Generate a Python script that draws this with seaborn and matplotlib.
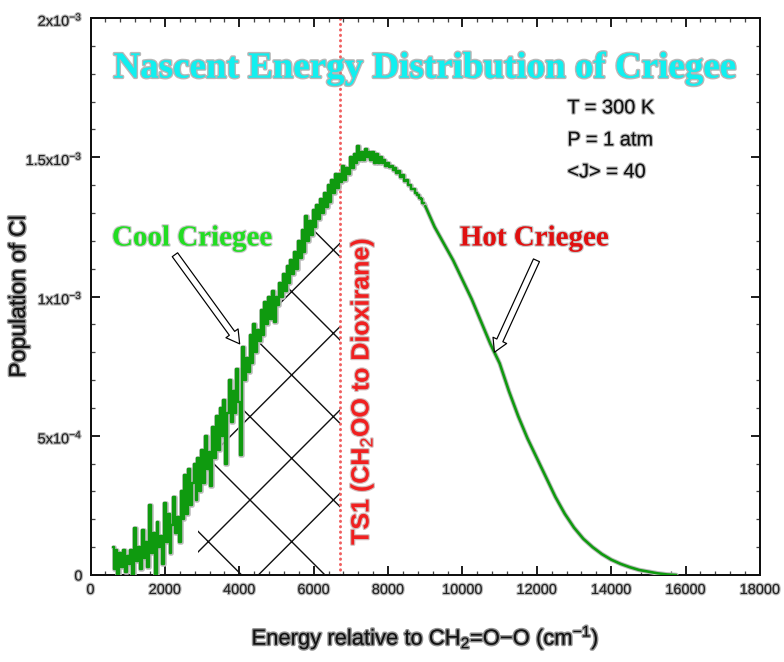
import numpy as np
import pandas as pd
import seaborn as sns
import matplotlib
matplotlib.use("Agg")
import matplotlib.pyplot as plt
import matplotlib.patheffects as pe
from matplotlib.ticker import FixedLocator, MultipleLocator

# ---------------- data (population in units of 1e-3) ----------------
noisy_start = 600
noisy_step = 50
pop_noisy = [
    0.10, 0.02, 0.09, 0.00, 0.08, 0.03, 0.09, 0.01, 0.07,
    0.04, 0.09, 0.00, 0.17, 0.05, 0.10, 0.02, 0.16, 0.06, 0.12,
    0.03, 0.25, 0.08, 0.15, 0.00, 0.19, 0.10, 0.14, 0.04, 0.26,
    0.12, 0.22, 0.08, 0.18, 0.28, 0.15, 0.21, 0.12, 0.30, 0.20,
    0.36, 0.22, 0.38, 0.25, 0.33, 0.40, 0.27, 0.42, 0.30, 0.45,
    0.33, 0.50, 0.38, 0.44, 0.32, 0.53, 0.42, 0.57, 0.45, 0.60,
    0.50, 0.63, 0.40, 0.58, 0.70, 0.55, 0.66, 0.58, 0.74, 0.62,
    0.43, 0.82, 0.70, 0.78, 0.73, 0.86, 0.76, 0.90, 0.80, 0.88,
    0.84, 0.95, 0.86, 0.98, 0.90, 1.00, 0.92, 1.02, 0.91, 1.00,
    0.97, 1.05, 1.00, 1.08, 1.02, 1.11, 1.05, 1.13, 1.08, 1.16,
    1.10, 1.20, 1.14, 1.24, 1.16, 1.29, 1.20, 1.27, 1.22, 1.31,
    1.25, 1.33, 1.28, 1.35, 1.30, 1.37, 1.32, 1.40, 1.34, 1.42,
    1.37, 1.44, 1.39, 1.44, 1.41, 1.47, 1.42, 1.46, 1.44, 1.50,
    1.46, 1.51, 1.48, 1.54, 1.49, 1.52, 1.49, 1.53, 1.50, 1.52,
    1.49, 1.52, 1.48, 1.51, 1.48, 1.50, 1.48, 1.49, 1.47, 1.48,
    1.465, 1.47, 1.455, 1.46, 1.445, 1.45, 1.43, 1.435, 1.415, 1.42,
    1.40, 1.40, 1.385, 1.385, 1.37, 1.365, 1.355, 1.35, 1.335, 1.33,
]
energy_tail = [9000, 9250, 9500, 9750, 10000, 10250, 10500, 10750, 11000, 11250,
               11500, 11750, 12000, 12250, 12500, 12750, 13000, 13250, 13500,
               13750, 14000, 14250, 14500, 14750, 15000, 15250, 15500, 15750]
pop_tail = [1.325, 1.25, 1.19, 1.13, 1.06, 0.99, 0.91, 0.83, 0.76, 0.66,
            0.57, 0.49, 0.42, 0.35, 0.28, 0.22, 0.17, 0.13, 0.10,
            0.075, 0.055, 0.04, 0.028, 0.018, 0.012, 0.006, 0.002, 0.0]

ts1_energy = 6700
hatch_range = (2900, 6700)

x_ticks = [0, 2000, 4000, 6000, 8000, 10000, 12000, 14000, 16000, 18000]
x_ticklabels = [str(v) for v in x_ticks]
y_ticks = [0, 5e-4, 1e-3, 1.5e-3, 2e-3]
y_ticklabels = ["0", "5x10$^{-4}$", "1x10$^{-3}$", "1.5x10$^{-3}$", "2x10$^{-3}$"]

title = "Nascent Energy Distribution of Criegee"
conditions = ["T = 300 K", "P = 1 atm", "<J> = 40"]

energy_noisy = noisy_start + noisy_step * np.arange(len(pop_noisy))
df_noisy = pd.DataFrame({"energy": energy_noisy, "population": np.array(pop_noisy) * 1e-3})
df_tail = pd.DataFrame({"energy": energy_tail, "population": np.array(pop_tail) * 1e-3})

# ---------------- styling ----------------
DPI = 250
PX = 72.0 / DPI  # points per pixel

sns.set_style("ticks")
plt.rcParams["font.family"] = ["Liberation Sans", "DejaVu Sans"]
plt.rcParams["mathtext.fontset"] = "custom"
plt.rcParams["mathtext.rm"] = "Liberation Sans"
plt.rcParams["mathtext.it"] = "Liberation Sans:italic"
plt.rcParams["mathtext.bf"] = "Liberation Sans:bold"
plt.rcParams["hatch.linewidth"] = 1.4 * PX
plt.rcParams["axes.linewidth"] = 2.0 * PX

fig = plt.figure(figsize=(784 / DPI, 662 / DPI), dpi=DPI)
ax = fig.add_axes([90.5 / 784, 87 / 662, (760 - 90.5) / 784, (575 - 18) / 662])

def halo(w, c="#b0b0b0", a=0.8):
    return [pe.withStroke(linewidth=w * PX, foreground=c, alpha=a)]

# hatched region under the curve up to TS1
mask = (df_noisy["energy"] >= hatch_range[0]) & (df_noisy["energy"] <= hatch_range[1])
ax.fill_between(df_noisy["energy"][mask], 0, df_noisy["population"][mask], step="mid",
                hatch="x", facecolor="none", edgecolor="#111111", linewidth=0, zorder=1)

# curve
curve_pe = [pe.Stroke(linewidth=4.6 * PX, foreground="#bdbdbd"), pe.Normal()]
sns.lineplot(data=df_noisy, x="energy", y="population", ax=ax, color="#0f9a0f",
             drawstyle="steps-mid", linewidth=2.4 * PX, errorbar=None, zorder=3,
             path_effects=curve_pe)
sns.lineplot(data=df_tail, x="energy", y="population", ax=ax, color="#0f9a0f",
             linewidth=2.6 * PX, errorbar=None, zorder=3, path_effects=curve_pe)

# TS1 dotted line
ax.axvline(ts1_energy, color="#f06060", linewidth=3.0 * PX, linestyle=(0, (0.1, 1.7)),
           dash_capstyle="round", zorder=2)

ax.set_xlim(0, 18000)
ax.set_ylim(0, 2e-3)
ax.xaxis.set_major_locator(FixedLocator(x_ticks))
ax.set_xticklabels(x_ticklabels)
ax.xaxis.set_minor_locator(MultipleLocator(400))
ax.yaxis.set_major_locator(FixedLocator(y_ticks))
ax.set_yticklabels(y_ticklabels)
ax.yaxis.set_minor_locator(MultipleLocator(1e-4))

ax.tick_params(which="major", direction="in", length=9 * PX, width=2 * PX,
               top=True, right=True, labelsize=14.5 * PX, pad=8 * PX, colors="#222222")
ax.tick_params(which="minor", direction="in", length=4.5 * PX, width=1.3 * PX,
               top=True, right=True, colors="#444444")
for lbl in ax.get_xticklabels() + ax.get_yticklabels():
    lbl.set_path_effects(halo(2.5, "#999999", 0.7))
for s in ax.spines.values():
    s.set_color("#111111")
    s.set_linewidth(2 * PX)

ax.set_xlabel("Energy relative to CH$_2$=O$-$O (cm$^{-1}$)", fontsize=22 * PX,
              color="#111111", path_effects=halo(3, "#777777", 0.8))
ax.xaxis.set_label_coords(0.5, -(624 - 575) / 557)
ax.set_ylabel("Population of Cl", fontsize=23 * PX, color="#111111",
              path_effects=halo(3, "#777777", 0.8))
ax.yaxis.set_label_coords(-(90.5 - 30) / 669.5, 0.5)

# title
ax.text(8980, 1.82e-3, title, ha="center", va="center", fontsize=37 * PX,
        fontweight="bold", family=["Liberation Serif", "DejaVu Serif"], color="#11f0f0",
        path_effects=halo(3, "#9a9a9a", 0.7), zorder=5)

# conditions
for i, line in enumerate(conditions):
    ax.text(12820, 1.677e-3 - i * 0.115e-3, line, ha="left", va="center",
            fontsize=20 * PX, color="#111111", path_effects=halo(2.5, "#999999", 0.7),
            zorder=5)

# labels
ax.text(2730, 1.21e-3, "Cool Criegee", ha="center", va="center", fontsize=29 * PX,
        fontweight="bold", family=["Liberation Serif", "DejaVu Serif"], color="#22dd22",
        path_effects=halo(2.5, "#aaaaaa", 0.6), zorder=5)
ax.text(11930, 1.21e-3, "Hot Criegee", ha="center", va="center", fontsize=29 * PX,
        fontweight="bold", family=["Liberation Serif", "DejaVu Serif"], color="#e01010",
        path_effects=halo(2.5, "#aaaaaa", 0.6), zorder=5)

ax.text(7290, 0.66e-3, "TS1 (CH$_2$OO to Dioxirane)", rotation=90, ha="center", va="center",
        fontsize=25 * PX, fontweight="bold", color="#f02020",
        path_effects=halo(2.5, "#c0a0a0", 0.7), zorder=5)

# hollow arrows
arrow_style = "simple,head_length=0.65,head_width=0.75,tail_width=0.33"
for tail, tip in [((2270, 1.15e-3), (4010, 0.83e-3)), ((11990, 1.13e-3), (10860, 0.80e-3))]:
    ax.annotate("", xy=tip, xytext=tail,
                arrowprops=dict(arrowstyle=arrow_style, mutation_scale=20 * PX,
                                fc="white", ec="black", lw=1.2 * PX,
                                shrinkA=0, shrinkB=0), zorder=6)

fig.savefig("out.png", dpi=DPI)
